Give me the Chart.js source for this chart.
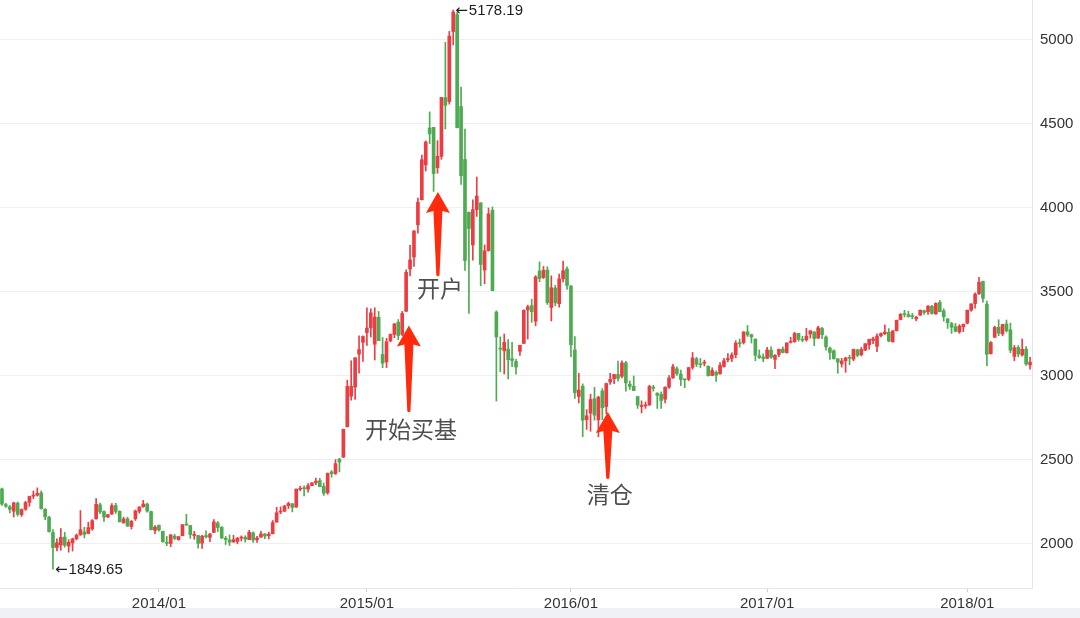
<!DOCTYPE html>
<html>
<head>
<meta charset="utf-8">
<script src="https://cdn.jsdelivr.net/npm/chart.js@4.4.1/dist/chart.umd.min.js"></script>
<style>
  html, body { margin: 0; padding: 0; background: #eef0f4; }
  #wrap { width: 1080px; height: 608px; background: #fff; }
  canvas { display: block; }
</style>
</head>
<body>
<div id="wrap"><canvas id="grafico" width="1080" height="608"></canvas></div>
<script>
// ── Dados (K semanal, 2013/03 – 2018/04) ────────────────────────────────────

const semanas = [
  '2013/03/29','2013/04/03','2013/04/12','2013/04/19','2013/04/26','2013/05/03','2013/05/10','2013/05/17','2013/05/24','2013/05/31',
  '2013/06/07','2013/06/14','2013/06/21','2013/06/28','2013/07/05','2013/07/12','2013/07/19','2013/07/26','2013/08/02','2013/08/09',
  '2013/08/16','2013/08/23','2013/08/30','2013/09/06','2013/09/13','2013/09/18','2013/09/27','2013/09/30','2013/10/11','2013/10/18',
  '2013/10/25','2013/11/01','2013/11/08','2013/11/15','2013/11/22','2013/11/29','2013/12/06','2013/12/13','2013/12/20','2013/12/27',
  '2014/01/03','2014/01/10','2014/01/17','2014/01/24','2014/01/30','2014/02/07','2014/02/14','2014/02/21','2014/02/28','2014/03/07',
  '2014/03/14','2014/03/21','2014/03/28','2014/04/04','2014/04/11','2014/04/18','2014/04/25','2014/04/30','2014/05/09','2014/05/16',
  '2014/05/23','2014/05/30','2014/06/06','2014/06/13','2014/06/20','2014/06/27','2014/07/04','2014/07/11','2014/07/18','2014/07/25',
  '2014/08/01','2014/08/08','2014/08/15','2014/08/22','2014/08/29','2014/09/05','2014/09/12','2014/09/19','2014/09/26','2014/09/30',
  '2014/10/10','2014/10/17','2014/10/24','2014/10/31','2014/11/07','2014/11/14','2014/11/21','2014/11/28','2014/12/05','2014/12/12',
  '2014/12/19','2014/12/26','2014/12/31','2015/01/09','2015/01/16','2015/01/23','2015/01/30','2015/02/06','2015/02/13','2015/02/17',
  '2015/02/27','2015/03/06','2015/03/13','2015/03/20','2015/03/27','2015/04/03','2015/04/10','2015/04/17','2015/04/24','2015/04/30',
  '2015/05/08','2015/05/15','2015/05/22','2015/05/29','2015/06/05','2015/06/12','2015/06/19','2015/06/26','2015/07/03','2015/07/10',
  '2015/07/17','2015/07/24','2015/07/31','2015/08/07','2015/08/14','2015/08/21','2015/08/28','2015/09/02','2015/09/11','2015/09/18',
  '2015/09/25','2015/09/30','2015/10/09','2015/10/16','2015/10/23','2015/10/30','2015/11/06','2015/11/13','2015/11/20','2015/11/27',
  '2015/12/04','2015/12/11','2015/12/18','2015/12/25','2015/12/31','2016/01/08','2016/01/15','2016/01/22','2016/01/29','2016/02/05',
  '2016/02/19','2016/02/26','2016/03/04','2016/03/11','2016/03/18','2016/03/25','2016/04/01','2016/04/08','2016/04/15','2016/04/22',
  '2016/04/29','2016/05/06','2016/05/13','2016/05/20','2016/05/27','2016/06/03','2016/06/08','2016/06/17','2016/06/24','2016/07/01',
  '2016/07/08','2016/07/15','2016/07/22','2016/07/29','2016/08/05','2016/08/12','2016/08/19','2016/08/26','2016/09/02','2016/09/09',
  '2016/09/14','2016/09/23','2016/09/30','2016/10/14','2016/10/21','2016/10/28','2016/11/04','2016/11/11','2016/11/18','2016/11/25',
  '2016/12/02','2016/12/09','2016/12/16','2016/12/23','2016/12/30','2017/01/06','2017/01/13','2017/01/20','2017/01/26','2017/02/03',
  '2017/02/10','2017/02/17','2017/02/24','2017/03/03','2017/03/10','2017/03/17','2017/03/24','2017/03/31','2017/04/07','2017/04/14',
  '2017/04/21','2017/04/28','2017/05/05','2017/05/12','2017/05/19','2017/05/26','2017/06/02','2017/06/09','2017/06/16','2017/06/23',
  '2017/06/30','2017/07/07','2017/07/14','2017/07/21','2017/07/28','2017/08/04','2017/08/11','2017/08/18','2017/08/25','2017/09/01',
  '2017/09/08','2017/09/15','2017/09/22','2017/09/29','2017/10/13','2017/10/20','2017/10/27','2017/11/03','2017/11/10','2017/11/17',
  '2017/11/24','2017/12/01','2017/12/08','2017/12/15','2017/12/22','2017/12/29','2018/01/05','2018/01/12','2018/01/19','2018/01/26',
  '2018/02/02','2018/02/09','2018/02/14','2018/02/23','2018/03/02','2018/03/09','2018/03/16','2018/03/23','2018/03/30','2018/04/04',
  '2018/04/13','2018/04/20','2018/04/27',
]

const abertura = [
  2328,2234,2221,2195,2243,2174,2207,2248,2285,2290,
  2304,2207,2159,2068,1979,1994,2041,1988,2007,2031,
  2054,2072,2062,2091,2150,2233,2193,2160,2179,2229,
  2194,2125,2150,2104,2150,2194,2222,2238,2193,2081,
  2112,2076,2010,2003,2047,2026,2049,2116,2110,2050,
  2050,2005,2050,2040,2069,2125,2100,2034,2024,2012,
  2015,2035,2040,2026,2066,2025,2040,2060,2049,2061,
  2130,2190,2195,2228,2239,2220,2326,2330,2327,2347,
  2365,2377,2343,2305,2429,2419,2505,2517,2698,2880,
  2934,3130,3200,3258,3288,3189,3349,3128,3084,3209,
  3247,3320,3248,3385,3637,3708,3900,4049,4257,4476,
  4480,4240,4307,4657,4633,5050,5151,4604,4289,3975,
  3780,3990,4031,3631,3746,3987,3380,3165,3150,3160,
  3103,3086,3147,3194,3393,3419,3326,3625,3586,3630,
  3408,3524,3430,3578,3637,3536,3155,2878,2939,2740,
  2779,2865,2739,2911,2818,2964,2984,3009,2998,3078,
  2951,2939,2877,2818,2822,2828,2934,2897,2891,2862,
  2933,2989,3043,3011,2978,2981,3051,3102,3070,3076,
  3058,3003,3022,3013,3057,3097,3105,3127,3198,3199,
  3263,3246,3220,3121,3113,3105,3154,3099,3128,3160,
  3139,3200,3204,3254,3215,3215,3250,3262,3225,3283,
  3232,3166,3150,3102,3072,3090,3107,3100,3156,3126,
  3154,3186,3211,3176,3240,3251,3260,3203,3270,3336,
  3370,3365,3358,3340,3362,3389,3382,3415,3370,3438,
  3388,3340,3312,3294,3262,3293,3314,3392,3431,3489,
  3563,3428,3133,3231,3290,3250,3310,3275,3116,3170,
  3125,3160,3066,
]

const maxima = [
  2333,2242,2230,2249,2250,2209,2254,2285,2315,2334,
  2316,2211,2164,2086,2030,2092,2070,2026,2035,2060,
  2199,2100,2130,2145,2270,2244,2198,2175,2240,2242,
  2198,2160,2160,2140,2202,2222,2260,2244,2196,2109,
  2112,2076,2045,2056,2058,2044,2116,2177,2110,2075,
  2051,2052,2078,2063,2146,2134,2103,2045,2054,2052,
  2040,2048,2049,2081,2073,2045,2075,2062,2070,2140,
  2218,2221,2230,2249,2242,2327,2344,2346,2360,2365,
  2392,2391,2363,2423,2437,2502,2510,2683,2975,3091,
  3110,3239,3239,3406,3400,3406,3384,3229,3224,3251,
  3312,3336,3384,3632,3778,3865,4059,4315,4399,4572,
  4480,4401,4658,4986,5051,5178.19,5164,4720,4470,3976,
  4049,4184,4031,3780,4000,4006,3388,3233,3250,3216,
  3201,3099,3183,3394,3422,3457,3597,3679,3652,3650,
  3596,3540,3606,3684,3650,3538,3235,3016,2953,2800,
  2892,2933,2880,2925,2958,3016,3009,3088,3090,3087,
  2970,3000,2880,2852,2845,2945,2944,2901,2905,2935,
  3003,3070,3055,3035,2982,3051,3140,3111,3104,3094,
  3061,3049,3031,3080,3105,3134,3138,3210,3220,3265,
  3301,3249,3220,3155,3132,3171,3174,3128,3160,3173,
  3197,3230,3260,3254,3237,3284,3270,3264,3295,3289,
  3239,3172,3156,3103,3105,3112,3124,3161,3160,3170,
  3193,3219,3231,3251,3257,3305,3282,3271,3332,3372,
  3391,3386,3373,3355,3394,3393,3418,3420,3435,3450,
  3400,3341,3320,3313,3306,3310,3392,3430,3495,3587,
  3565,3446,3205,3296,3335,3308,3333,3315,3182,3181,
  3220,3175,3111,
]

const minima = [
  2230,2218,2185,2161,2166,2164,2200,2224,2270,2285,
  2207,2145,2070,1849.65,1959,1963,1981,1951,1958,2025,
  2052,2036,2061,2082,2148,2180,2135,2158,2175,2182,
  2130,2125,2105,2089,2140,2183,2218,2190,2083,2062,
  2076,2011,1990,1984,2025,2022,2049,2110,2033,2028,
  1975,1974,2036,2014,2067,2074,2032,1997,1991,2010,
  2001,2018,2011,2026,2010,2010,2040,2032,2030,2060,
  2130,2180,2193,2211,2191,2218,2317,2286,2308,2347,
  2353,2340,2289,2296,2397,2414,2429,2514,2696,2856,
  2860,3017,3087,3182,3232,3095,3210,3049,3050,3203,
  3228,3216,3240,3385,3596,3652,3850,4048,4220,4383,
  4099,4207,4290,4470,4618,4971,4476,4140,3629,3373,
  3690,3950,3537,3549,3743,3507,2851,3025,3012,2983,
  3055,3011,3123,3193,3220,3319,3299,3561,3580,3426,
  3327,3417,3409,3560,3516,3115,2867,2839,2639,2682,
  2671,2737,2638,2740,2775,2950,2954,2969,2989,2909,
  2920,2913,2807,2780,2807,2824,2910,2807,2807,2839,
  2926,2985,3004,2943,2930,2972,3040,3056,3050,3060,
  2999,3002,2968,3011,3053,3084,3086,3108,3172,3190,
  3235,3196,3091,3104,3085,3105,3104,3044,3115,3137,
  3136,3196,3200,3207,3204,3207,3225,3180,3225,3222,
  3154,3098,3100,3016,3053,3022,3066,3091,3114,3119,
  3151,3160,3192,3144,3233,3248,3203,3202,3267,3334,
  3351,3350,3340,3328,3361,3366,3366,3368,3367,3382,
  3326,3283,3254,3262,3254,3264,3310,3385,3403,3485,
  3440,3062,3130,3228,3240,3239,3261,3138,3091,3114,
  3118,3063,3041,
]

const fechamento = [
  2237,2225,2206,2245,2177,2205,2247,2283,2288,2301,
  2211,2162,2074,1979,2007,2039,1992,2010,2030,2052,
  2085,2057,2098,2139,2236,2191,2160,2175,2228,2194,
  2133,2149,2106,2135,2197,2220,2238,2196,2085,2101,
  2083,2013,2004,2054,2033,2044,2115,2113,2056,2057,
  2004,2047,2042,2059,2131,2098,2036,2026,2011,2026,
  2034,2039,2029,2070,2024,2036,2060,2047,2059,2127,
  2186,2194,2226,2241,2217,2327,2331,2329,2347,2364,
  2374,2341,2302,2420,2418,2478,2487,2683,2938,2938,
  3108,3157,3235,3285,3376,3351,3210,3076,3204,3247,
  3310,3241,3372,3617,3691,3863,4034,4287,4393,4441,
  4205,4308,4658,4611,5023,5166,4478,4192,3687,3878,
  3990,4071,3664,3745,3965,3508,3232,3160,3200,3097,
  3093,3053,3183,3391,3412,3383,3590,3580,3630,3436,
  3525,3435,3578,3627,3539,3186,2901,2916,2737,2763,
  2860,2767,2874,2811,2955,2980,3009,2985,3078,2959,
  2938,2913,2827,2825,2822,2938,2927,2885,2854,2933,
  2988,3055,3013,2979,2977,3050,3108,3070,3067,3078,
  3002,3033,3005,3063,3091,3104,3125,3196,3192,3261,
  3244,3232,3123,3110,3104,3155,3112,3123,3159,3140,
  3197,3202,3253,3218,3213,3237,3269,3223,3287,3246,
  3173,3140,3103,3083,3090,3107,3105,3158,3123,3158,
  3192,3218,3222,3238,3253,3262,3208,3268,3332,3367,
  3366,3354,3353,3349,3391,3378,3417,3372,3432,3383,
  3353,3317,3290,3266,3297,3307,3392,3429,3487,3558,
  3462,3129,3199,3289,3254,3307,3269,3153,3168,3131,
  3159,3071,3082,
]

const marcasY = [2000, 2500, 3000, 3500, 4000, 4500, 5000]

// Anotações: posição em índice da semana e valor do índice
const anotacoes = [
  { texto: '开始买基', semana: 103.7, ponta: 3300, cauda: 2790, rotulo: 2680 },
  { texto: '开户', semana: 111.1, ponta: 4095, cauda: 3600, rotulo: 3524 },
  { texto: '清仓', semana: 154.4, ponta: 2786, cauda: 2393, rotulo: 2298 },
]

const SOBE = '#ec3d42'
const CAI = '#4eab52'
const FONTE = "'Liberation Sans', Arial, sans-serif"

// ── Helpers ─────────────────────────────────────────────────────────────────

const corDaSemana = (i) => (fechamento[i] >= abertura[i] ? SOBE : CAI)

function rotuloAno(i) {
  if (!semanas[i] || !semanas[i - 1]) return ''
  const atual = semanas[i].slice(0, 4)
  const anterior = semanas[i - 1].slice(0, 4)
  return atual !== anterior ? `${atual}/01` : ''
}

function desenharSeta(ctx, x, yPonta, yCauda) {
  ctx.beginPath()
  ctx.moveTo(x, yPonta)
  ctx.lineTo(x + 12, yPonta + 21)
  ctx.lineTo(x + 4.5, yPonta + 19)
  ctx.lineTo(x + 1.6, yCauda)
  ctx.quadraticCurveTo(x, yCauda + 2, x - 1.6, yCauda)
  ctx.lineTo(x - 4.5, yPonta + 19)
  ctx.lineTo(x - 12, yPonta + 21)
  ctx.closePath()
  ctx.fill()
}

// "←" num traço mais longo, seguido do valor
function rotuloExtremo(ctx, x, y, valor) {
  ctx.font = "15px 'DejaVu Sans', sans-serif"
  ctx.fillText('←', x, y)
  const w = ctx.measureText('←').width
  ctx.font = `15px ${FONTE}`
  ctx.fillText(valor.toFixed(2), x + w + 1, y)
}

const pluginAnotacoes = {
  id: 'anotacoes',
  afterDatasetsDraw(chart) {
    const { ctx, scales } = chart
    const { x, y } = scales
    ctx.save()

    // setas vermelhas e textos
    anotacoes.forEach((a) => {
      const px = x.getPixelForValue(a.semana)
      ctx.fillStyle = '#ff2b0c'
      desenharSeta(ctx, px, y.getPixelForValue(a.ponta), y.getPixelForValue(a.cauda))
      ctx.fillStyle = '#4f4f4f'
      ctx.font = "23px 'Noto Sans CJK SC', sans-serif"
      ctx.textAlign = 'center'
      ctx.textBaseline = 'middle'
      ctx.fillText(a.texto, px + 2, y.getPixelForValue(a.rotulo))
    })

    // máxima e mínima do período
    const iMax = maxima.indexOf(Math.max(...maxima))
    const iMin = minima.indexOf(Math.min(...minima))
    ctx.fillStyle = '#1c1c1c'
    ctx.textAlign = 'left'
    ctx.textBaseline = 'middle'
    rotuloExtremo(ctx, x.getPixelForValue(iMax) + 2, y.getPixelForValue(maxima[iMax]) + 1, maxima[iMax])
    rotuloExtremo(ctx, x.getPixelForValue(iMin) + 2, y.getPixelForValue(minima[iMin]) + 1, minima[iMin])

    ctx.restore()
  },
}

// ── Gráfico ─────────────────────────────────────────────────────────────────

const cores = semanas.map((_, i) => corDaSemana(i))

new Chart(document.getElementById('grafico'), {
  type: 'bar',
  data: {
    labels: semanas,
    datasets: [
      {
        label: 'sombra',
        data: minima.map((v, i) => [v, maxima[i]]),
        backgroundColor: cores,
        barThickness: 1,
        grouped: false,
        borderWidth: 0,
      },
      {
        label: 'corpo',
        data: abertura.map((v, i) => [v, fechamento[i]]),
        backgroundColor: cores,
        barThickness: 3,
        minBarLength: 1,
        grouped: false,
        borderWidth: 0,
      },
    ],
  },
  options: {
    responsive: false,
    animation: false,
    layout: { padding: 0 },
    plugins: {
      legend: { display: false },
      tooltip: { enabled: false },
    },
    scales: {
      x: {
        offset: true,
        ticks: {
          autoSkip: false,
          maxRotation: 0,
          padding: 3,
          color: '#333',
          font: { family: FONTE, size: 15 },
          callback: (v, i) => rotuloAno(i),
        },
        grid: {
          offset: false,
          drawOnChartArea: false,
          tickLength: 4,
          color: (c) => (rotuloAno(c.index) ? '#cccccc' : 'rgba(0,0,0,0)'),
        },
        border: { color: '#e6e6e6' },
        afterFit: (s) => {
          s.height = 20
          s.paddingLeft = 0
          s.paddingRight = 0
        },
      },
      y: {
        position: 'right',
        min: 1738,
        max: 5238,
        afterBuildTicks: (s) => {
          s.ticks = marcasY.map((v) => ({ value: v }))
        },
        ticks: {
          padding: 8,
          color: '#333',
          font: { family: FONTE, size: 15 },
          callback: (v) => String(v),
        },
        grid: { color: '#efefef', drawTicks: false },
        border: { color: '#e6e6e6' },
        afterFit: (s) => {
          s.width = 48
          s.paddingTop = 0
          s.paddingBottom = 0
        },
      },
    },
  },
  plugins: [pluginAnotacoes],
})
</script>
</body>
</html>
